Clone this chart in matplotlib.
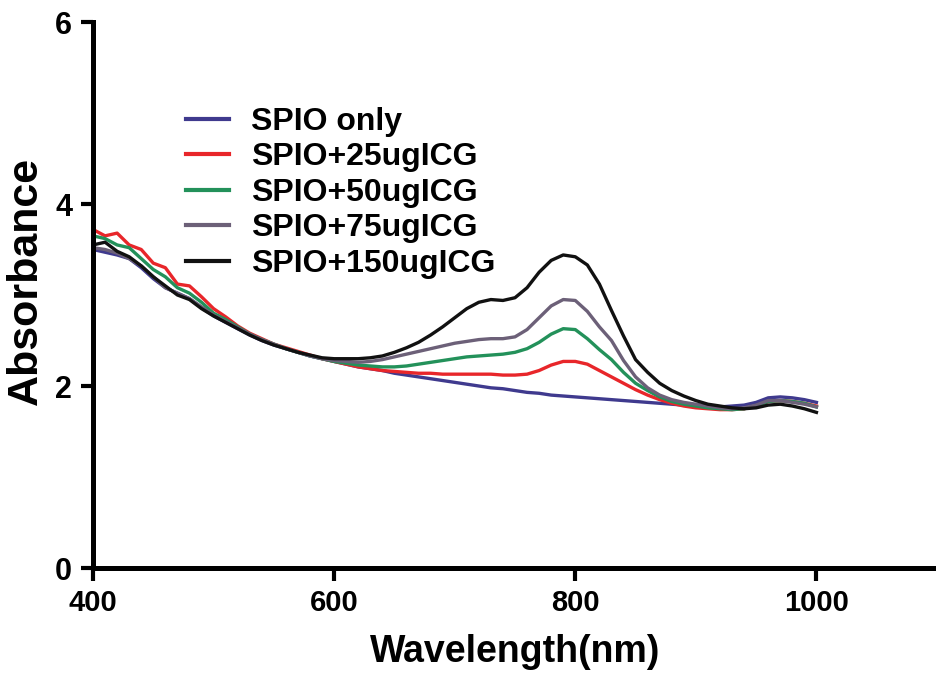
import matplotlib.pyplot as plt
import numpy as np

plt.rcParams['font.family'] = ['Liberation Sans', 'DejaVu Sans']
plt.rcParams['font.weight'] = 'bold'

# wavelength grid (nm), values every 10 nm
wavelength = list(range(400, 1001, 10))

spio_only = [3.50, 3.47, 3.44, 3.40, 3.30, 3.18, 3.08, 3.02, 2.96, 2.86,
             2.77, 2.70, 2.63, 2.56, 2.50, 2.45, 2.41, 2.37, 2.33, 2.30,
             2.27, 2.24, 2.21, 2.19, 2.17, 2.14, 2.12, 2.10, 2.08, 2.06,
             2.04, 2.02, 2.00, 1.98, 1.97, 1.95, 1.93, 1.92, 1.90, 1.89,
             1.88, 1.87, 1.86, 1.85, 1.84, 1.83, 1.82, 1.81, 1.80, 1.79,
             1.78, 1.78, 1.77, 1.78, 1.79, 1.82, 1.87, 1.88, 1.87, 1.85,
             1.82]

spio_25 = [3.72, 3.65, 3.68, 3.55, 3.50, 3.35, 3.30, 3.12, 3.10, 2.98,
           2.85, 2.76, 2.66, 2.58, 2.52, 2.46, 2.42, 2.38, 2.34, 2.30,
           2.27, 2.24, 2.21, 2.19, 2.17, 2.16, 2.15, 2.14, 2.14, 2.13,
           2.13, 2.13, 2.13, 2.13, 2.12, 2.12, 2.13, 2.17, 2.23, 2.27,
           2.27, 2.24, 2.17, 2.10, 2.03, 1.96, 1.90, 1.85, 1.81, 1.78,
           1.76, 1.75, 1.74, 1.74, 1.75, 1.78, 1.83, 1.84, 1.83, 1.81,
           1.78]

spio_50 = [3.65, 3.62, 3.55, 3.52, 3.40, 3.28, 3.20, 3.08, 3.02, 2.92,
           2.80, 2.73, 2.65, 2.57, 2.51, 2.46, 2.41, 2.37, 2.33, 2.30,
           2.27, 2.25, 2.23, 2.22, 2.21, 2.21, 2.22, 2.24, 2.26, 2.28,
           2.30, 2.32, 2.33, 2.34, 2.35, 2.37, 2.41, 2.48, 2.57, 2.63,
           2.62, 2.52, 2.40, 2.29, 2.15, 2.03, 1.95, 1.88, 1.83, 1.80,
           1.78, 1.76, 1.75, 1.74, 1.75, 1.78, 1.83, 1.84, 1.83, 1.81,
           1.77]

spio_75 = [3.52, 3.50, 3.46, 3.40, 3.32, 3.20, 3.08, 3.02, 2.96, 2.87,
           2.78, 2.71, 2.64, 2.57, 2.51, 2.46, 2.41, 2.37, 2.33, 2.30,
           2.28, 2.27, 2.26, 2.27, 2.29, 2.32, 2.35, 2.38, 2.41, 2.44,
           2.47, 2.49, 2.51, 2.52, 2.52, 2.54, 2.62, 2.75, 2.88, 2.95,
           2.94, 2.82, 2.65, 2.50, 2.28, 2.10, 1.98, 1.90, 1.85, 1.82,
           1.80, 1.78, 1.76, 1.75, 1.76, 1.79, 1.84, 1.84, 1.82, 1.80,
           1.77]

spio_150 = [3.55, 3.58, 3.48, 3.42, 3.32, 3.20, 3.10, 3.00, 2.95, 2.85,
            2.77, 2.70, 2.63, 2.56, 2.50, 2.45, 2.41, 2.37, 2.34, 2.31,
            2.30, 2.30, 2.30, 2.31, 2.33, 2.37, 2.42, 2.48, 2.56, 2.65,
            2.75, 2.85, 2.92, 2.95, 2.94, 2.97, 3.08, 3.25, 3.38, 3.44,
            3.42, 3.33, 3.12, 2.83, 2.55, 2.29, 2.15, 2.03, 1.95, 1.89,
            1.84, 1.80, 1.78, 1.76, 1.75, 1.76, 1.79, 1.80, 1.78, 1.75,
            1.71]

labels = ['SPIO only', 'SPIO+25ugICG', 'SPIO+50ugICG', 'SPIO+75ugICG', 'SPIO+150ugICG']
colors = ['#3f3a8e', '#e8262a', '#23915a', '#6c6078', '#111111']
series = [spio_only, spio_25, spio_50, spio_75, spio_150]

fig = plt.figure(figsize=(9.37, 6.77), dpi=100)
ax = fig.add_axes([93 / 937, 109 / 677, 844 / 937, 546 / 677])

for vals, lab, col in zip(series, labels, colors):
    ax.plot(wavelength, vals, color=col, lw=2.4, label=lab)

ax.set_xlim(400, 1100)
ax.set_ylim(0, 6)
ax.set_xticks([400, 600, 800, 1000])
ax.set_yticks([0, 2, 4, 6])

for s in ['top', 'right']:
    ax.spines[s].set_visible(False)
for s in ['left', 'bottom']:
    ax.spines[s].set_linewidth(3.6)

ax.tick_params(axis='both', width=3, length=9, direction='out', labelsize=22, pad=6)
ax.tick_params(axis='x', labelsize=21)
for t in ax.get_xticklabels() + ax.get_yticklabels():
    t.set_fontweight('bold')

ax.set_xlabel('Wavelength(nm)', fontsize=27, fontweight='bold', labelpad=12)
ax.set_ylabel('Absorbance', fontsize=31, fontweight='bold')
ax.yaxis.set_label_coords(-0.056, 0.526)

leg = ax.legend(loc='upper left', bbox_to_anchor=((186 - 93) / 844, (568 - 107) / 546),
                frameon=False, fontsize=23, borderpad=0, borderaxespad=0,
                handlelength=1.35, handletextpad=0.7, labelspacing=0.17)
for t in leg.get_texts():
    t.set_fontweight('bold')
for h in leg.get_lines():
    h.set_linewidth(3)

fig.savefig('out.png', dpi=100)
